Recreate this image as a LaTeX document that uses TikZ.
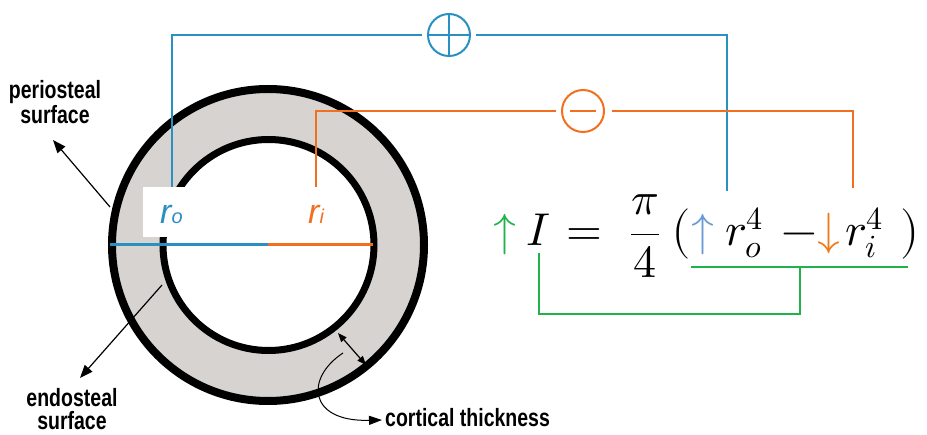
\documentclass[tikz,border=0pt]{standalone}
\usepackage{fontspec}
\usepackage{unicode-math}
\setmathfont{Latin Modern Math}
\newfontfamily\labfont[FakeStretch=0.78]{Liberation Sans}
\newfontfamily\rfont{Liberation Sans}
\usetikzlibrary{arrows.meta}
\definecolor{wblue}{HTML}{2A8FC1}
\definecolor{worange}{HTML}{F07020}
\definecolor{wgreen}{HTML}{22B24C}
\definecolor{ablue}{HTML}{6A9AD6}
\definecolor{aorange}{HTML}{F07A1A}
\definecolor{bone}{HTML}{D6D3D0}
\tikzset{
  lab/.style={font=\labfont\bfseries\fontsize{25}{23}\selectfont, inner sep=0pt, align=center},
  eqn/.style={font=\fontsize{46}{50}\selectfont, inner sep=0pt, anchor=base},
  pointer/.style={line width=1.2pt, -{Triangle[length=13pt,width=10pt]}},
  bluewire/.style={wblue, line width=2pt},
  orangewire/.style={worange, line width=2pt},
  greenwire/.style={wgreen, line width=2.4pt},
  sign/.style={circle, draw, line width=2pt, minimum size=42pt, inner sep=0pt},
}
\begin{document}
\begin{tikzpicture}[x=1pt,y=-1pt]
\useasboundingbox (0,0) rectangle (927,435);
% bone ring
\draw[line width=8pt, fill=bone] (268,245) circle[radius=156pt];
\draw[line width=7pt, fill=white] (268.5,245) circle[radius=105.5pt];
\fill[white] (143,187) rectangle (200,237);
% diameter
\coordinate (dL) at (110,245);
\coordinate (dC) at (268,245);
\coordinate (dR) at (373,245);
\draw[wblue, line width=3pt] (dL) -- (dC);
\draw[worange, line width=3pt] (dC) -- (dR);
% radius labels
\node[anchor=base west, inner sep=0pt, text=wblue] (ro) at (160,224)
  {\rfont\itshape\fontsize{34}{34}\selectfont r\fontsize{20}{20}\selectfont o};
\node[anchor=base west, inner sep=0pt, text=worange] (ri) at (308,224)
  {\rfont\itshape\fontsize{34}{34}\selectfont r\fontsize{20}{20}\selectfont i};
% sign circles
\node[sign, wblue] (plus) at (449,35) {};
\draw[wblue, line width=2pt] (plus.north) -- (plus.south) (plus.west) -- (plus.east);
\node[sign, worange] (minus) at (583,111) {};
\draw[worange, line width=2pt] ([xshift=-13pt]minus.center) -- ([xshift=13pt]minus.center);
% equation
\node[eqn, text=wgreen] (up1) at (505,246) {$\uparrow$};
\node[eqn] (Ivar) at (539,246) {$I$};
\node[eqn] (equ) at (584,246) {$=$};
\node[eqn] (frac) at (645,246) {$\dfrac{\pi}{4}$};
\node[eqn] (lp) at (681,246) {$\bigl($};
\node[eqn, text=ablue] (up2) at (703,246) {$\uparrow$};
\node[eqn] (rov) at (744,246) {$r_o^4$};
\node[eqn] (mi) at (799,246) {$-$};
\node[eqn, text=aorange] (dn) at (829,246) {$\downarrow$};
\node[eqn] (riv) at (864,246) {$r_i^4$};
\node[eqn] (rp) at (910,246) {$\bigr)$};
% wires
\coordinate (b1) at (172,187);
\coordinate (b2) at (727,191);
\draw[bluewire] (b1) |- ([xshift=-5pt]plus.west);
\draw[bluewire] ([xshift=5pt]plus.east) -| (b2);
\coordinate (o1) at (316,187);
\coordinate (o2) at (853,188);
\draw[orangewire] (o1) |- ([xshift=-5pt]minus.west);
\draw[orangewire] ([xshift=7pt]minus.east) -| (o2);
\coordinate (g1) at (539,253);
\coordinate (g2) at (800,267);
\coordinate (gl) at (691,267);
\coordinate (gr) at (908,267);
\draw[greenwire] (g1) -- ++(0,61) -| (g2);
\draw[greenwire] (gl) -- (gr);
% labels and pointers
\node[lab] (peri) at (55,102) {periosteal\\surface};
\node[lab] (endo) at (72,409) {endosteal\\surface};
\node[lab, anchor=base west] (cort) at (385,427) {cortical thickness};
\coordinate (pa) at (110,207);
\coordinate (pb) at (53,140);
\draw[pointer] (pa) -- (pb);
\coordinate (ea) at (162,285);
\coordinate (eb) at (80,378);
\draw[pointer] (ea) -- (eb);
\coordinate (ta) at (338,333);
\coordinate (tb) at (366,365);
\draw[line width=1.2pt, {Triangle[length=9pt,width=7pt]}-{Triangle[length=9pt,width=7pt]}] (ta) -- (tb);
\coordinate (ca) at (343,353);
\draw[line width=1pt, -{Triangle[length=13pt,width=9pt]}] (ca) .. controls (305,378) and (308,422) .. ([xshift=-3pt]cort.west |- 0,420);
\end{tikzpicture}
\end{document}
